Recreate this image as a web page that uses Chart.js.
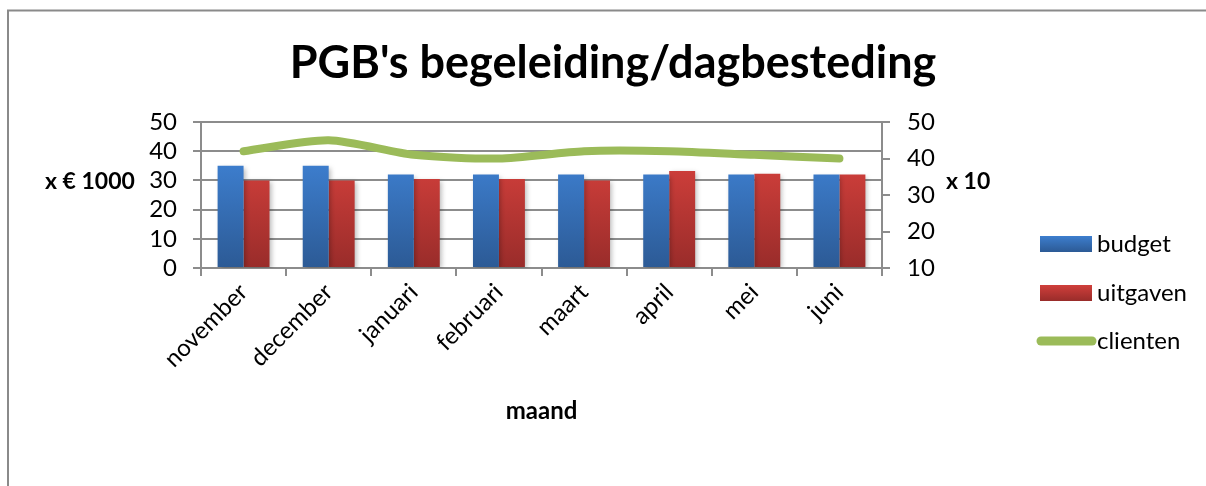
<!DOCTYPE html>
<html>
<head>
<meta charset="utf-8">
<script src="https://cdn.jsdelivr.net/npm/chart.js@4.4.1/dist/chart.umd.min.js"></script>
<style>
  html, body { margin: 0; padding: 0; background: #ffffff; }
  #wrap { position: relative; width: 1206px; height: 486px; }
</style>
</head>
<body>
<div id="wrap"><canvas id="c" width="1206" height="486"></canvas></div>
<script>
const categories = ['november', 'december', 'januari', 'februari', 'maart', 'april', 'mei', 'juni'];
const budget    = [35, 35, 32, 32, 32, 32, 32, 32];
const uitgaven  = [30, 30, 30.5, 30.5, 30, 33.2, 32.3, 32];
const clienten  = [42, 45, 41, 40, 42, 42, 41, 40];
const leftTicks = [0, 10, 20, 30, 40, 50];
const rightTicks = [10, 20, 30, 40, 50];

const FONT = 'Lato, "Open Sans", "Liberation Sans", sans-serif';
const GRID = '#8c8c8c';
const BLUE_TOP = '#3d7ece', BLUE_BOT = '#2c5a95';
const RED_TOP = '#d03f3b', RED_BOT = '#992c2a';
const GREEN = '#9bbb59';

function grad(ctx, top, bot, y0, y1) {
  const g = ctx.createLinearGradient(0, y0, 0, y1);
  g.addColorStop(0, top);
  g.addColorStop(1, bot);
  return g;
}
function barColor(top, bot) {
  return function(context) {
    const chart = context.chart;
    const ca = chart.chartArea;
    if (!ca) return top;
    return grad(chart.ctx, top, bot, ca.top + 40, ca.bottom);
  };
}

const framePlugin = {
  id: 'frame',
  beforeDraw(chart) {
    const ctx = chart.ctx;
    ctx.save();
    ctx.fillStyle = '#ffffff';
    ctx.fillRect(0, 0, chart.width, chart.height);
    ctx.strokeStyle = '#8a8a8a';
    ctx.lineWidth = 2;
    ctx.strokeRect(8, 10.5, chart.width + 20, chart.height + 20);
    ctx.restore();
  }
};

const shadowPlugin = {
  id: 'barShadow',
  beforeDatasetDraw(chart, args) {
    if (args.meta.type === 'bar') {
      const ctx = chart.ctx;
      ctx.save();
      ctx.shadowColor = 'rgba(0,0,0,0.28)';
      ctx.shadowBlur = 5;
      ctx.shadowOffsetX = 2;
      ctx.shadowOffsetY = 2;
    }
  },
  afterDatasetDraw(chart, args) {
    if (args.meta.type === 'bar') chart.ctx.restore();
  }
};

const extrasPlugin = {
  id: 'extras',
  afterDraw(chart) {
    const ctx = chart.ctx;
    ctx.save();
    ctx.fillStyle = '#000';
    ctx.font = 'bold 23px ' + FONT;
    ctx.textBaseline = 'middle';
    ctx.textAlign = 'left';
    ctx.fillText('x € 1000', 45, 182);
    ctx.fillText('x 10', 946, 182);
    const ds = chart.data.datasets;
    const items = [
      { y: 244, type: 'bar', top: BLUE_TOP, bot: BLUE_BOT, label: ds[1].label },
      { y: 293, type: 'bar', top: RED_TOP, bot: RED_BOT, label: ds[2].label },
      { y: 341, type: 'line', color: ds[0].borderColor, label: ds[0].label }
    ];
    ctx.font = '24px ' + FONT;
    items.forEach(it => {
      if (it.type === 'bar') {
        ctx.fillStyle = grad(ctx, it.top, it.bot, it.y - 8, it.y + 8);
        ctx.fillRect(1040, it.y - 8, 52, 16);
      } else {
        ctx.strokeStyle = it.color;
        ctx.lineWidth = 9;
        ctx.lineCap = 'round';
        ctx.beginPath();
        ctx.moveTo(1041, it.y);
        ctx.lineTo(1092, it.y);
        ctx.stroke();
      }
      ctx.fillStyle = '#000';
      ctx.fillText(it.label, 1097, it.y);
    });
    ctx.restore();
  }
};

new Chart(document.getElementById('c'), {
  data: {
    labels: categories,
    datasets: [
      {
        type: 'line', label: 'clienten', data: clienten, yAxisID: 'y1',
        borderColor: GREEN, backgroundColor: GREEN, borderWidth: 8,
        pointRadius: 0, tension: 0.25, borderCapStyle: 'round', borderJoinStyle: 'round',
        order: 0
      },
      {
        type: 'bar', label: 'budget', data: budget, yAxisID: 'y',
        backgroundColor: barColor(BLUE_TOP, BLUE_BOT), borderWidth: 0,
        categoryPercentage: 0.61, barPercentage: 1.0, order: 1
      },
      {
        type: 'bar', label: 'uitgaven', data: uitgaven, yAxisID: 'y',
        backgroundColor: barColor(RED_TOP, RED_BOT), borderWidth: 0,
        categoryPercentage: 0.61, barPercentage: 1.0, order: 2
      }
    ]
  },
  options: {
    responsive: false,
    animation: false,
    devicePixelRatio: 1,
    layout: { padding: { left: 20, right: 0, top: 0, bottom: 58 } },
    plugins: {
      legend: { display: false },
      tooltip: { enabled: false },
      title: {
        display: true,
        text: "PGB's begeleiding/dagbesteding",
        color: '#000',
        font: { family: FONT, size: 45, weight: 'bold', lineHeight: 1.2 },
        padding: { top: 36, bottom: 32 }
      }
    },
    scales: {
      x: {
        type: 'category',
        offset: true,
        grid: { display: true, offset: true, drawOnChartArea: false, drawTicks: true, tickLength: 8, color: GRID, lineWidth: 2 },
        border: { display: true, color: GRID, width: 2 },
        ticks: { color: '#000', font: { family: FONT, size: 24 }, maxRotation: 45, minRotation: 45, padding: 2, autoSkip: false },
        title: { display: true, text: 'maand', color: '#000', font: { family: FONT, size: 24, weight: 'bold', lineHeight: 1.2 }, padding: { top: 0, bottom: 2 } },
        afterFit(scale) { scale.height = 160; }
      },
      y: {
        position: 'left',
        min: 0, max: 50,
        afterBuildTicks(scale) { scale.ticks = leftTicks.map(v => ({ value: v })); },
        grid: { color: GRID, lineWidth: 2, tickLength: 8, drawTicks: true },
        border: { display: true, color: GRID, width: 2 },
        ticks: { color: '#000', font: { family: FONT, size: 24 }, padding: 16, autoSkip: false },
        afterFit(scale) { scale.width = 181; }
      },
      y1: {
        position: 'right',
        min: 10, max: 50,
        afterBuildTicks(scale) { scale.ticks = rightTicks.map(v => ({ value: v })); },
        grid: { drawOnChartArea: false, color: GRID, lineWidth: 2, tickLength: 8, drawTicks: true },
        border: { display: true, color: GRID, width: 2 },
        ticks: { color: '#000', font: { family: FONT, size: 24 }, padding: 17, autoSkip: false },
        afterFit(scale) { scale.width = 324; }
      }
    }
  },
  plugins: [framePlugin, shadowPlugin, extrasPlugin]
});
</script>
</body>
</html>
